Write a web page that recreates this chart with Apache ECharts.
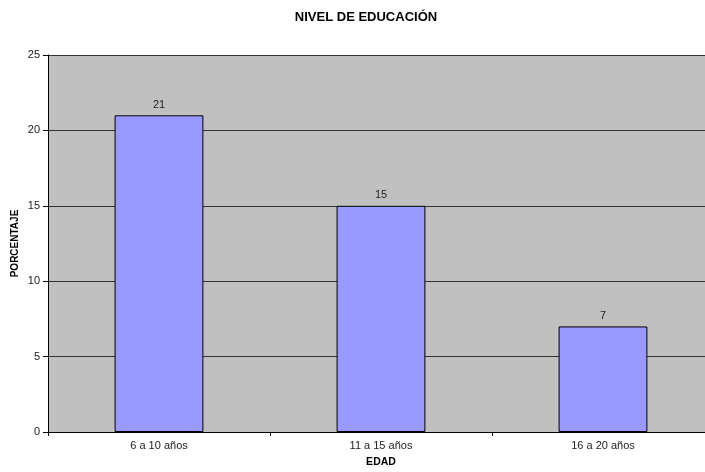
<!DOCTYPE html>
<html>
<head>
<meta charset="utf-8">
<script src="https://cdn.jsdelivr.net/npm/echarts@6/dist/echarts.min.js"></script>
<style>
  html, body { margin: 0; padding: 0; background: #fff; }
  #chart { width: 705px; height: 472px; }
</style>
</head>
<body>
<div id="chart"></div>
<script>
// Age groups and the share of each one
const categories = ['6 a 10 años', '11 a 15 años', '16 a 20 años'];
const values = [21, 15, 7];
const yTicks = [0, 5, 10, 15, 20, 25];

const chart = echarts.init(document.getElementById('chart'));
const font = 'Arial, "Liberation Sans", sans-serif';

chart.setOption({
  animation: false,
  backgroundColor: '#ffffff',
  title: {
    text: 'NIVEL DE EDUCACIÓN',
    left: 361,
    top: 6,
    textAlign: 'center',
    textStyle: { fontFamily: font, fontSize: 13, fontWeight: 'bold', color: '#000' }
  },
  grid: {
    left: 48,
    top: 55,
    width: 666,
    height: 377,
    outerBoundsMode: 'none',
    containLabel: false,
    show: true,
    backgroundColor: '#c0c0c0',
    borderWidth: 0
  },
  xAxis: {
    type: 'category',
    data: categories,
    name: 'EDAD',
    nameLocation: 'middle',
    nameGap: 25,
    nameTextStyle: { fontFamily: font, fontSize: 10.5, fontWeight: 'bold', color: '#000' },
    axisLine: { lineStyle: { color: '#000', width: 1 } },
    axisTick: { show: true, length: 4, alignWithLabel: false, lineStyle: { color: '#000' } },
    axisLabel: { fontFamily: font, fontSize: 11, color: '#222', margin: 8 }
  },
  yAxis: {
    type: 'value',
    min: yTicks[0],
    max: yTicks[yTicks.length - 1],
    interval: 5,
    name: 'PORCENTAJE',
    nameLocation: 'middle',
    nameGap: 28,
    nameMoveOverlap: false,
    nameTextStyle: { fontFamily: font, fontSize: 10, fontWeight: 'bold', color: '#000' },
    axisLine: { show: true, lineStyle: { color: '#000', width: 1 } },
    axisTick: { show: true, length: 5, lineStyle: { color: '#000' } },
    axisLabel: { fontFamily: font, fontSize: 11, color: '#222', margin: 8 },
    splitLine: { show: true, lineStyle: { color: '#333', width: 1 } }
  },
  series: [{
    type: 'bar',
    data: values,
    barWidth: '40%',
    itemStyle: { color: '#9999ff', borderColor: '#000', borderWidth: 1 },
    label: {
      show: true,
      position: 'top',
      distance: 5,
      fontFamily: font,
      fontSize: 11,
      color: '#222'
    }
  }]
});
</script>
</body>
</html>
